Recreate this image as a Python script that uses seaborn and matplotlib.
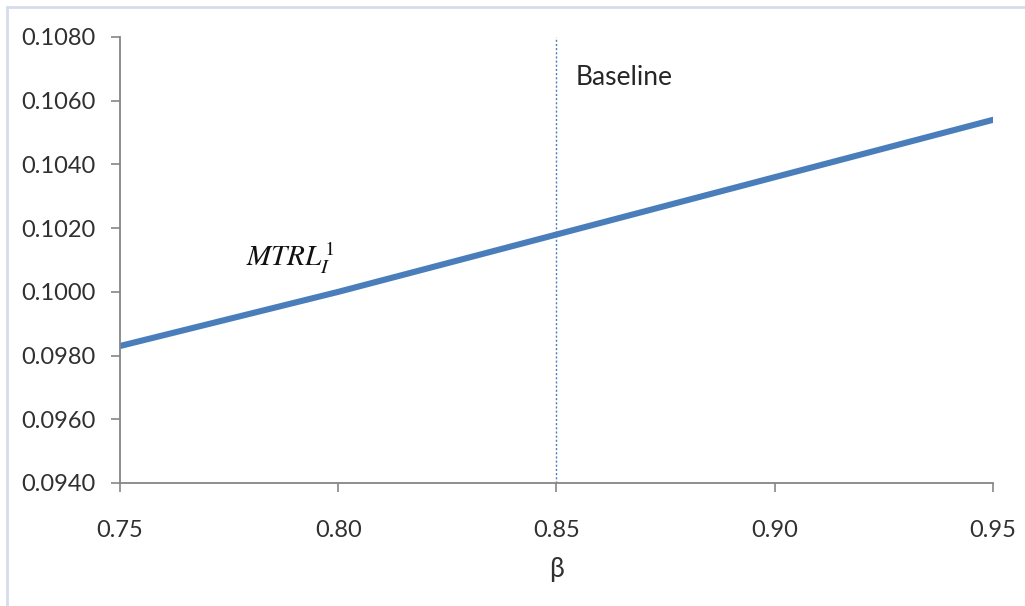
import matplotlib
matplotlib.use("Agg")
import matplotlib.pyplot as plt
from matplotlib.lines import Line2D
import pandas as pd
import seaborn as sns

# values
beta = [0.75, 0.80, 0.85, 0.90, 0.95]
mtrl = [0.0983, 0.1000, 0.1018, 0.1036, 0.1054]
baseline_beta = 0.85
x_ticks = [0.75, 0.80, 0.85, 0.90, 0.95]
y_ticks = [0.094, 0.096, 0.098, 0.100, 0.102, 0.104, 0.106, 0.108]

sns.set_style("white")
plt.rcParams["font.family"] = ["Lato", "DejaVu Sans"]
plt.rcParams["mathtext.fontset"] = "stix"

df = pd.DataFrame({"beta": beta, "mtrl": mtrl})

fig = plt.figure(figsize=(10.25, 6.06), dpi=100)
ax = fig.add_axes([120 / 1025, 1 - 483 / 606, 873 / 1025, 446 / 606])

sns.lineplot(data=df, x="beta", y="mtrl", ax=ax, color="#4a7ebb", linewidth=4.4)
ax.axvline(baseline_beta, color="#4a7ebb", linestyle=(0, (1.5, 1.5)), linewidth=1.0)

ax.set_xlim(0.75, 0.95)
ax.set_ylim(0.094, 0.108)
ax.set_xticks(x_ticks)
ax.set_xticklabels([f"{v:.2f}" for v in x_ticks])
ax.set_yticks(y_ticks)
ax.set_yticklabels([f"{v:.4f}" for v in y_ticks])
ax.tick_params(axis="both", direction="out", length=6.5, width=1.2, color="#868686",
               labelsize=17, labelcolor="#303030", bottom=True, left=True)
ax.tick_params(axis="x", pad=20)
ax.tick_params(axis="y", pad=11)

for s in ["top", "right"]:
    ax.spines[s].set_visible(False)
for s in ["left", "bottom"]:
    ax.spines[s].set_color("#868686")
    ax.spines[s].set_linewidth(1.3)

ax.set_xlabel("β", fontsize=19, color="#303030", labelpad=12)
ax.set_ylabel("")

ax.text(0.8543, 0.10674, "Baseline", fontsize=19, color="#262626", ha="left", va="center")
ax.text(0.7889, 0.10106, r"$MTRL_I^1$", fontsize=21, color="#111111", ha="center", va="center")

# light frame around the chart area
fig.add_artist(Line2D([7 / 1025, 7 / 1025], [0, 1 - 7 / 606], transform=fig.transFigure,
                      color="#d5dcea", linewidth=2))
fig.add_artist(Line2D([7 / 1025, 1], [1 - 7 / 606, 1 - 7 / 606], transform=fig.transFigure,
                      color="#d5dcea", linewidth=2))

fig.savefig("out.png", dpi=100)
